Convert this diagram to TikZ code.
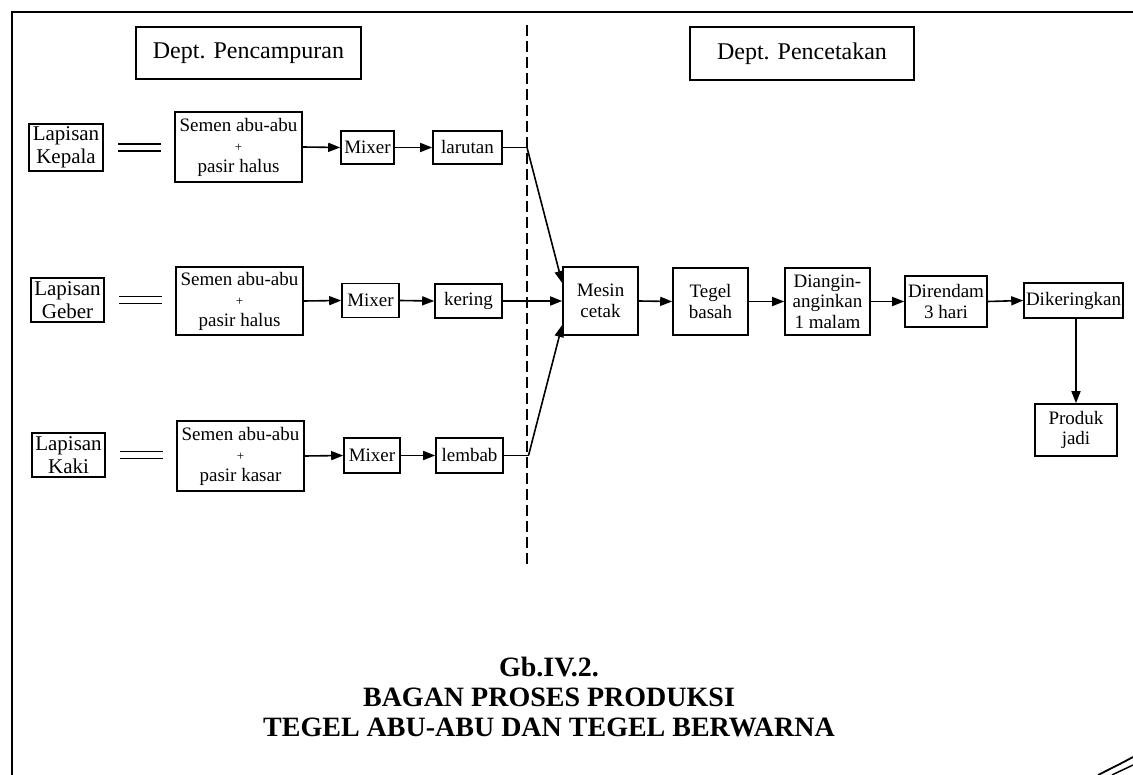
\documentclass[tikz,border=0pt]{standalone}
\usepackage{fontspec}
\setmainfont{Liberation Serif}
\usetikzlibrary{arrows.meta,calc}
\begin{document}
\begin{tikzpicture}[x=1pt,y=-1pt,
  box/.style={draw,line width=1.6pt,inner sep=0pt,align=center,font=\fontsize{19}{20.5}\selectfont},
  lap/.style={box,font=\fontsize{21}{22.5}\selectfont},
  dept/.style={box,font=\fontsize{24}{28}\selectfont},
  arr/.style={line width=1.6pt,-{Triangle[length=12pt,width=9pt]}},
  conn/.style={line width=1.6pt},
  eqsign/.style={line width=1.5pt,double,double distance=5.5pt},
  sep/.style={line width=1.5pt,dash pattern=on 11pt off 5pt},
  frame/.style={line width=2.4pt},
  titletext/.style={inner sep=0pt,font=\fontsize{28}{30}\selectfont\bfseries}
]
\fill[white] (0,0) rectangle (1133,775);
\useasboundingbox (0,0) rectangle (1133,775);

% frame
\draw[frame] (1133,12) -- (12,12) -- (12,775);
\draw[frame,line width=1.8pt] (1098,775) .. controls (1112,768) and (1122,763) .. (1133,757);
\draw[frame,line width=1.5pt] (1112,775) .. controls (1120,771) and (1127,768) .. (1133,765);

% department headers
\node[dept,minimum width=225pt,minimum height=52pt] (dp1) at (248.5,53) {Dept. Pencampuran};
\node[dept,minimum width=224pt,minimum height=53pt] (dp2) at (802,53.5) {Dept. Pencetakan};

% separator
\coordinate (dtop) at (527,25);
\coordinate (dbot) at (527,565);
\draw[sep] (dtop) -- (dbot);

% row 1
\node[lap,minimum width=74pt,minimum height=47pt] (l1) at (66,147.5) {Lapisan\\Kepala};
\node[box,minimum width=127pt,minimum height=70pt] (s1) at (238.5,147) {Semen abu-abu\\{\fontsize{13}{13}\selectfont +}\\pasir halus};
\node[box,minimum width=53pt,minimum height=33pt] (m1) at (367.5,147.5) {Mixer};
\node[box,minimum width=69pt,minimum height=33pt] (r1) at (467.5,147.5) {larutan};

% row 2
\node[lap,minimum width=73pt,minimum height=44pt] (l2) at (67.5,300) {Lapisan\\Geber};
\node[box,minimum width=127pt,minimum height=68pt] (s2) at (239.5,301) {Semen abu-abu\\{\fontsize{13}{13}\selectfont +}\\pasir halus};
\node[box,minimum width=57pt,minimum height=34pt] (m2) at (370.5,300.5) {Mixer};
\node[box,minimum width=67pt,minimum height=34pt] (r2) at (468.5,301) {kering};

% row 3
\node[lap,minimum width=73pt,minimum height=44pt] (l3) at (68.5,455) {Lapisan\\Kaki};
\node[box,minimum width=127pt,minimum height=70pt] (s3) at (240.5,456) {Semen abu-abu\\{\fontsize{13}{13}\selectfont +}\\pasir kasar};
\node[box,minimum width=56pt,minimum height=35pt] (m3) at (372,455.5) {Mixer};
\node[box,minimum width=67pt,minimum height=35pt] (r3) at (469.5,455.5) {lembab};

% printing department
\node[box,minimum width=75pt,minimum height=68pt] (mc) at (600.5,301) {Mesin\\cetak};
\node[box,minimum width=75pt,minimum height=67pt] (tb) at (710.5,301.5) {Tegel\\basah};
\node[box,minimum width=85pt,minimum height=67pt] (da) at (827.5,301.5) {Diangin-\\anginkan\\1 malam};
\node[box,minimum width=82pt,minimum height=51pt] (dr) at (946,301.5) {Direndam\\3 hari};
\node[box,minimum width=99pt,minimum height=35pt] (dk) at (1073.5,300.5) {Dikeringkan};
\node[box,minimum width=82pt,minimum height=52pt] (pj) at (1076,430) {Produk\\jadi};

% equals signs
\draw[eqsign,shorten <=14pt,shorten >=13pt] (l1.east) -- (l1.east -| s1.west);
\draw[eqsign,shorten <=14pt,shorten >=13pt] (l2.east) -- (l2.east -| s2.west);
\draw[eqsign,shorten <=14pt,shorten >=13pt] (l3.east) -- (l3.east -| s3.west);

% row arrows
\draw[arr] (s1.east) -- (m1.west);
\draw[arr] (m1.east) -- (r1.west);
\draw[arr] (s2.east) -- (m2.west);
\draw[arr] (m2.east) -- (r2.west);
\draw[arr] (s3.east) -- (m3.west);
\draw[arr] (m3.east) -- (r3.west);

% into Mesin cetak
\coordinate (j1) at (r1.east -| dtop);
\coordinate (j3) at ($(r3.east -| dtop)+(1.5,0)$);
\draw[conn] (r1.east) -- (j1);
\draw[arr] (j1) -- ($(mc.west)+(0,-18)$);
\draw[arr] (r2.east) -- (mc.west);
\draw[conn] (r3.east) -- (j3);
\draw[arr] (j3) -- ($(mc.west)+(0,24)$);

% chain
\draw[arr] (mc.east) -- (tb.west);
\draw[arr] (tb.east) -- (da.west);
\draw[arr] (da.east) -- (dr.west);
\draw[arr] (dr.east) -- (dk.west);
\draw[arr] (dk.south -| pj.north) -- (pj.north);

% title
\node[titletext] (t1) at (549,667) {Gb.IV.2.};
\node[titletext] (t2) at (549,697) {BAGAN PROSES PRODUKSI};
\node[titletext] (t3) at (549,727) {TEGEL ABU-ABU DAN TEGEL BERWARNA};
\end{tikzpicture}
\end{document}
